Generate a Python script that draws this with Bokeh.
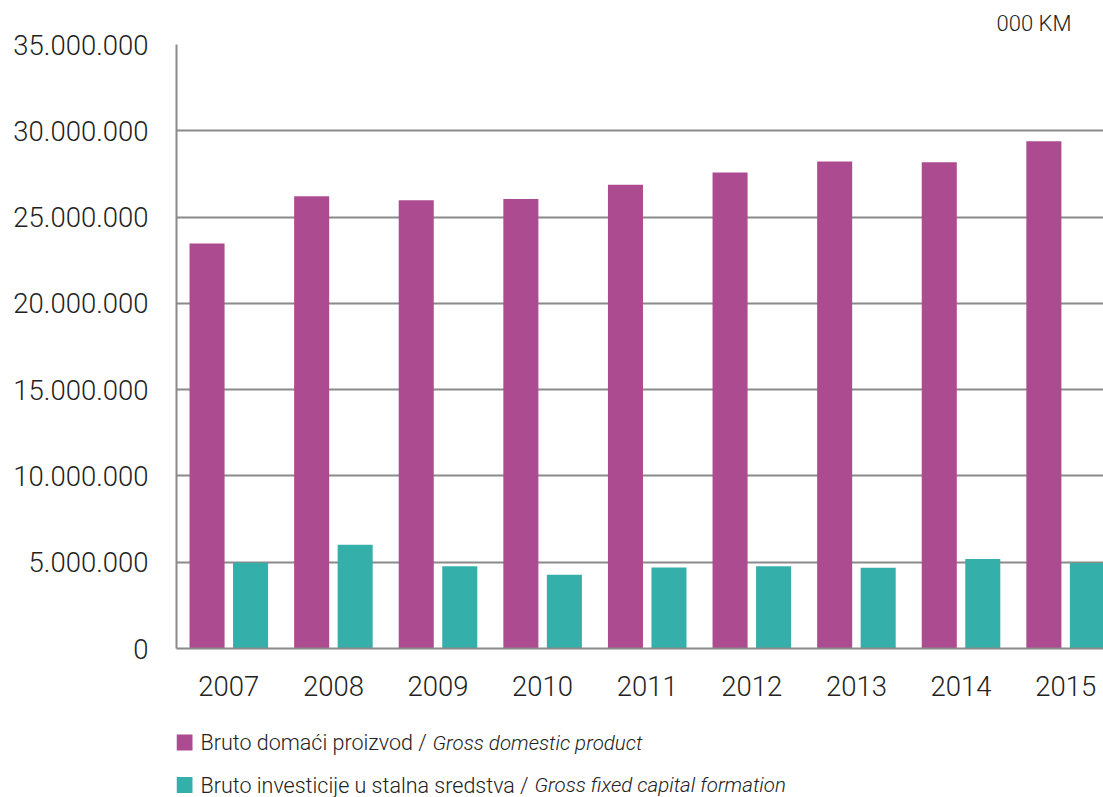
from bokeh.plotting import figure
from bokeh.models import ColumnDataSource, FixedTicker, Range1d, Title
from bokeh.layouts import column
from bokeh.transform import dodge
from bokeh.core.properties import value
from bokeh.embed import file_html
from bokeh.resources import INLINE

years = ["2007", "2008", "2009", "2010", "2011", "2012", "2013", "2014", "2015"]
gdp = [23470000, 26200000, 25980000, 26040000, 26880000, 27580000, 28220000, 28170000, 29400000]
gfcf = [4970000, 6010000, 4760000, 4280000, 4700000, 4760000, 4680000, 5180000, 4960000]
y_ticks = [0, 5000000, 10000000, 15000000, 20000000, 25000000, 30000000, 35000000]
y_tick_labels = ["0", "5.000.000", "10.000.000", "15.000.000", "20.000.000",
                 "25.000.000", "30.000.000", "35.000.000"]
legend_bs = ["Bruto domaći proizvod /", "Bruto investicije u stalna sredstva /"]
legend_en = ["Gross domestic product", "Gross fixed capital formation"]
colors = ["#AD4B91", "#35AFA9"]
unit_label = "000 KM"

FONT = "'Roboto Light', Roboto"
TXT = "#222222"
GRID = "#8a8a8a"

idx = list(range(len(years)))
src = ColumnDataSource(dict(x=idx, gdp=gdp, gfcf=gfcf))

p = figure(width=1103, height=704, output_backend="svg", toolbar_location=None,
           x_range=Range1d(-0.5, 8.362), y_range=Range1d(0, 35000000),
           min_border_left=176, min_border_right=0, min_border_top=44, min_border_bottom=56)
p.outline_line_color = None
p.background_fill_color = "white"
p.border_fill_color = "white"

p.vbar(x=dodge("x", -0.208), top="gdp", width=0.335, source=src, color=colors[0], line_color=None)
p.vbar(x=dodge("x", 0.208), top="gfcf", width=0.335, source=src, color=colors[1], line_color=None)

p.xgrid.grid_line_color = None
p.ygrid.ticker = FixedTicker(ticks=y_ticks)
p.ygrid.grid_line_color = GRID
p.ygrid.grid_line_width = 2

p.yaxis.ticker = FixedTicker(ticks=y_ticks)
p.yaxis.major_label_overrides = {t: l for t, l in zip(y_ticks, y_tick_labels)}
p.xaxis.ticker = FixedTicker(ticks=idx)
p.xaxis.major_label_overrides = {i: y for i, y in zip(idx, years)}
for ax in (p.xaxis, p.yaxis):
    ax.axis_line_color = GRID
    ax.axis_line_width = 2
    ax.major_tick_line_color = None
    ax.minor_tick_line_color = None
    ax.major_label_text_font = FONT
    ax.major_label_text_font_size = "27.5px"
    ax.major_label_text_color = TXT
p.yaxis.major_label_standoff = 22
p.xaxis.major_label_standoff = 21

t = Title(text=unit_label, align="right", offset=32, text_font=FONT, standoff=17,
          text_font_size="22px", text_font_style="normal", text_color=TXT)
p.add_layout(t, "above")

# legend figure (x in pixels, frame aligned with main figure)
leg = figure(width=1103, height=93, output_backend="svg", toolbar_location=None,
             x_range=Range1d(176, 1103), y_range=Range1d(93, 0),
             min_border_left=176, min_border_right=0, min_border_top=0, min_border_bottom=0)
leg.axis.visible = False
leg.grid.visible = False
leg.outline_line_color = None
lsrc = ColumnDataSource(dict(sx=[184, 184], ty=[38, 80.5], tx=[200, 200], ix=[432, 534],
                             bs=legend_bs, en=legend_en, c=colors))
leg.scatter(x="sx", y="ty", marker="square", size=16, color="c", line_color=None, source=lsrc)
leg.text(x="tx", y="ty", text="bs", source=lsrc, text_font=value(FONT), text_font_size="21.5px",
         text_baseline="middle", text_color=TXT)
leg.text(x="ix", y="ty", text="en", source=lsrc, text_font=value(FONT), text_font_size="20.5px",
         text_font_style="italic", text_baseline="middle", text_color=TXT)

layout = column(p, leg, spacing=0)
open("out.html", "w").write(file_html(layout, INLINE))
